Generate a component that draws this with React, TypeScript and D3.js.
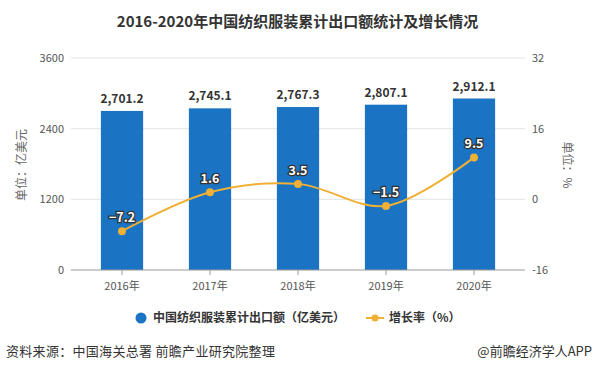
import React, { useEffect, useRef } from 'react';
import * as d3 from 'd3';

const years = ['2016年', '2017年', '2018年', '2019年', '2020年'];
const exportValues = [2701.2, 2745.1, 2767.3, 2807.1, 2912.1];
const growthRates = [-7.2, 1.6, 3.5, -1.5, 9.5];
const leftTicks = [0, 1200, 2400, 3600];
const rightTicks = [-16, 0, 16, 32];

const FONT = '"Noto Sans CJK SC", "Noto Sans", sans-serif';
const BAR = '#1a74c3';
const LINE = '#efb035';

const App = () => {
  const ref = useRef<SVGSVGElement>(null);

  useEffect(() => {
    const width = 595;
    const height = 372;
    const margin = { top: 58, right: 77, bottom: 102, left: 78 };
    const innerW = width - margin.left - margin.right;
    const innerH = height - margin.top - margin.bottom;

    const svg = d3.select(ref.current);
    svg.selectAll('*').remove();
    svg.style('font-family', FONT);

    svg.append('rect').attr('width', width).attr('height', height).attr('fill', '#fff');

    // Title
    svg.append('text')
      .attr('x', width / 2)
      .attr('y', 27)
      .attr('text-anchor', 'middle')
      .style('font-size', '15px')
      .style('font-weight', 'bold')
      .attr('fill', '#333')
      .text('2016-2020年中国纺织服装累计出口额统计及增长情况');

    const g = svg.append('g').attr('transform', `translate(${margin.left},${margin.top})`);

    const x = d3.scaleBand().domain(years).range([0, innerW]).paddingInner(0.52).paddingOuter(0.26);
    const yL = d3.scaleLinear().domain([0, 3600]).range([innerH, 0]);
    const yR = d3.scaleLinear().domain([-16, 32]).range([innerH, 0]);

    // gridlines
    g.selectAll('line.grid')
      .data(leftTicks.slice(1))
      .enter()
      .append('line')
      .attr('x1', -7)
      .attr('x2', innerW + 7)
      .attr('y1', d => yL(d))
      .attr('y2', d => yL(d))
      .attr('stroke', '#e3e3e3');

    // left ticks
    g.selectAll('text.yl')
      .data(leftTicks)
      .enter()
      .append('text')
      .attr('x', -14)
      .attr('y', d => yL(d))
      .attr('dy', '0.35em')
      .attr('text-anchor', 'end')
      .style('font-size', '11px')
      .attr('fill', '#555')
      .text(d => d);

    // right ticks
    g.selectAll('text.yr')
      .data(rightTicks)
      .enter()
      .append('text')
      .attr('x', innerW + 14)
      .attr('y', d => yR(d))
      .attr('dy', '0.35em')
      .attr('text-anchor', 'start')
      .style('font-size', '11px')
      .attr('fill', '#555')
      .text(d => d);

    // bars
    g.selectAll('rect.bar')
      .data(exportValues)
      .enter()
      .append('rect')
      .attr('x', (_, i) => x(years[i])!)
      .attr('y', d => yL(d))
      .attr('width', x.bandwidth())
      .attr('height', d => innerH - yL(d))
      .attr('fill', BAR);

    // bar labels
    g.selectAll('text.barlabel')
      .data(exportValues)
      .enter()
      .append('text')
      .attr('x', (_, i) => x(years[i])! + x.bandwidth() / 2)
      .attr('y', d => yL(d) - 8)
      .attr('text-anchor', 'middle')
      .style('font-size', '12px')
      .style('font-weight', 'bold')
      .attr('fill', '#333')
      .text(d => d3.format(',.1f')(d));

    // x axis
    g.append('line')
      .attr('x1', -7)
      .attr('x2', innerW + 7)
      .attr('y1', innerH)
      .attr('y2', innerH)
      .attr('stroke', '#999');
    g.selectAll('line.xtick')
      .data(years)
      .enter()
      .append('line')
      .attr('x1', d => x(d)! + x.bandwidth() / 2)
      .attr('x2', d => x(d)! + x.bandwidth() / 2)
      .attr('y1', innerH)
      .attr('y2', innerH + 5)
      .attr('stroke', '#999');
    g.selectAll('text.xlabel')
      .data(years)
      .enter()
      .append('text')
      .attr('x', d => x(d)! + x.bandwidth() / 2)
      .attr('y', innerH + 20)
      .attr('text-anchor', 'middle')
      .style('font-size', '11px')
      .attr('fill', '#555')
      .text(d => d);

    // line
    const cx = (i: number) => x(years[i])! + x.bandwidth() / 2;
    const line = d3.line<number>()
      .x((_, i) => cx(i))
      .y(d => yR(d))
      .curve(d3.curveCatmullRom.alpha(0.5));
    g.append('path')
      .datum(growthRates)
      .attr('d', line)
      .attr('fill', 'none')
      .attr('stroke', LINE)
      .attr('stroke-width', 2);
    g.selectAll('circle.pt')
      .data(growthRates)
      .enter()
      .append('circle')
      .attr('cx', (_, i) => cx(i))
      .attr('cy', d => yR(d))
      .attr('r', 4)
      .attr('fill', LINE);
    g.selectAll('text.ptlabel')
      .data(growthRates)
      .enter()
      .append('text')
      .attr('x', (_, i) => cx(i))
      .attr('y', d => yR(d) - 9)
      .attr('text-anchor', 'middle')
      .style('font-size', '12.5px')
      .style('font-weight', 'bold')
      .attr('fill', '#fff')
      .attr('stroke', '#333')
      .attr('stroke-width', 2.5)
      .attr('paint-order', 'stroke')
      .text(d => (d < 0 ? '−' + Math.abs(d) : d));

    // axis titles
    svg.append('text')
      .attr('transform', `translate(26,165) rotate(-90)`)
      .attr('text-anchor', 'middle')
      .style('font-size', '12px')
      .attr('fill', '#666')
      .text('单位：亿美元');
    svg.append('text')
      .attr('transform', `translate(563,165) rotate(90)`)
      .attr('text-anchor', 'middle')
      .style('font-size', '12px')
      .attr('fill', '#666')
      .text('单位：%');

    // legend
    const lg = svg.append('g').attr('transform', 'translate(0,318)');
    lg.append('circle').attr('cx', 141).attr('cy', 0).attr('r', 5.5).attr('fill', BAR);
    lg.append('text')
      .attr('x', 153)
      .attr('y', 0)
      .attr('dy', '0.35em')
      .style('font-size', '12px')
      .style('font-weight', 'bold')
      .attr('fill', '#333')
      .text('中国纺织服装累计出口额（亿美元）');
    lg.append('line').attr('x1', 366).attr('x2', 384).attr('y1', 0).attr('y2', 0).attr('stroke', LINE).attr('stroke-width', 2);
    lg.append('circle').attr('cx', 375).attr('cy', 0).attr('r', 3.5).attr('fill', LINE);
    lg.append('text')
      .attr('x', 389)
      .attr('y', 0)
      .attr('dy', '0.35em')
      .style('font-size', '12px')
      .style('font-weight', 'bold')
      .attr('fill', '#333')
      .text('增长率（%）');

    // footer
    svg.append('text')
      .attr('x', 6)
      .attr('y', 356)
      .style('font-size', '13px')
      .style('letter-spacing', '0.3px')
      .attr('fill', '#333')
      .text('资料来源：中国海关总署 前瞻产业研究院整理');
    svg.append('text')
      .attr('x', 592)
      .attr('y', 356)
      .attr('text-anchor', 'end')
      .style('font-size', '13px')
      .attr('fill', '#333')
      .text('@前瞻经济学人APP');
  }, []);

  return (
    <svg
      ref={ref}
      width={595}
      height={372}
      style={{ position: 'absolute', left: 0, top: 0, display: 'block' }}
    />
  );
};

export default App;
